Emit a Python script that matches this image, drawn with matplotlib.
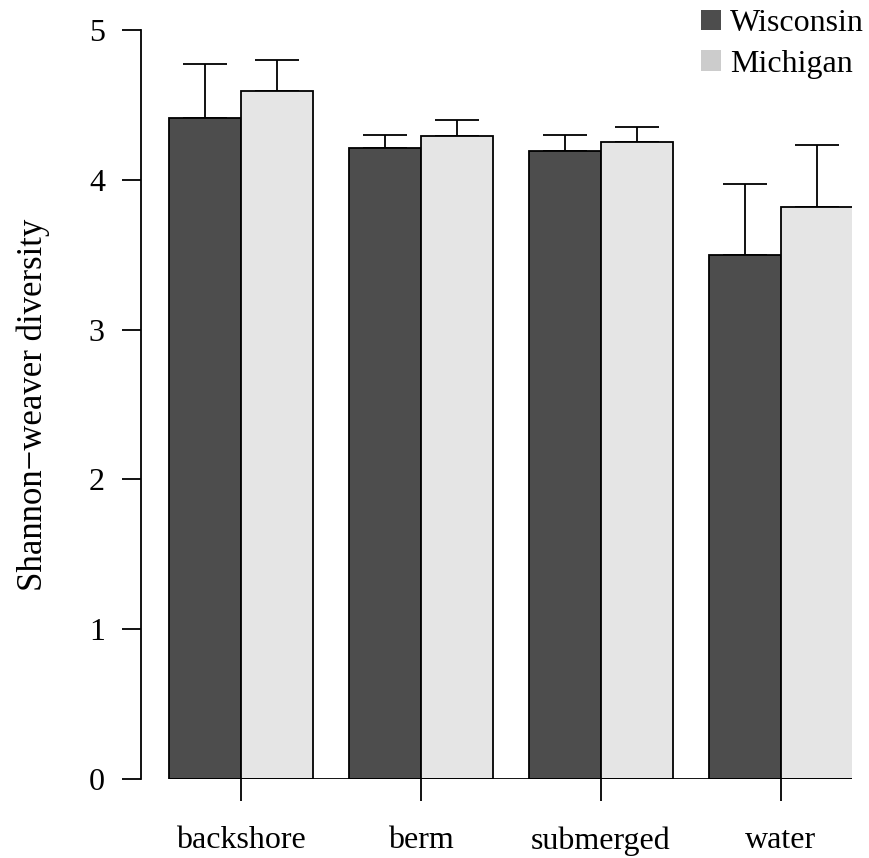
import matplotlib.pyplot as plt
from matplotlib.patches import Patch

# Mean Shannon-Weaver diversity per habitat, with upper error bars
habitats = ["backshore", "berm", "submerged", "water"]
wisconsin = [4.41, 4.21, 4.19, 3.50]
wisconsin_err = [0.36, 0.09, 0.11, 0.47]
michigan = [4.59, 4.29, 4.25, 3.82]
michigan_err = [0.21, 0.11, 0.10, 0.41]

plt.rcParams['font.family'] = ['Liberation Serif', 'DejaVu Serif']
plt.rcParams['font.size'] = 23

fig = plt.figure(figsize=(8.69, 8.58), dpi=100)
W, H = 869, 858
# plot region in pixels: left spine x=141, right edge 852, y 0 at 779, y 5 at 30
ax = fig.add_axes([141 / W, 1 - 779 / H, (852 - 141) / W, (779 - 30) / H])

step = 2.5
centers = [i * step for i in range(len(habitats))]
x_w = [c - 0.5 for c in centers]
x_m = [c + 0.5 for c in centers]

ax.bar(x_w, wisconsin, width=1, color="#4d4d4d", edgecolor="black", linewidth=1.3, zorder=2)
ax.bar(x_m, michigan, width=1, color="#e5e5e5", edgecolor="black", linewidth=1.3, zorder=2)

# upper-only error bars
ax.errorbar(x_w, wisconsin, yerr=[[0] * 4, wisconsin_err], fmt="none", ecolor="black",
            elinewidth=1.3, capsize=15.5, capthick=1.3, zorder=1)
ax.errorbar(x_m, michigan, yerr=[[0] * 4, michigan_err], fmt="none", ecolor="black",
            elinewidth=1.3, capsize=15.5, capthick=1.3, zorder=1)

ax.plot([x_w[0] - 0.5, x_m[-1] + 0.5], [0, 0], color="black", linewidth=1.3, zorder=3,
        solid_capstyle="butt")

ax.set_xlim((141 - 241) / 72, (852 - 241) / 72)
ax.set_ylim(0, 5)
ax.set_yticks([0, 1, 2, 3, 4, 5])
ax.set_xticks(centers)
ax.set_xticklabels(habitats)

for side in ["top", "right", "bottom"]:
    ax.spines[side].set_visible(False)
ax.spines["left"].set_linewidth(1.3)
ax.spines["left"].set_bounds(0, 5)
ax.tick_params(axis="y", length=14, width=1.3, pad=12)
ax.tick_params(axis="x", length=16, width=1.3, pad=18)

ax.set_ylabel("Shannon\u2212weaver diversity", fontsize=25, labelpad=28)

handles = [Patch(facecolor="#4d4d4d", edgecolor="none", label="Wisconsin"),
           Patch(facecolor="#cccccc", edgecolor="none", label="Michigan")]
fig.legend(handles=handles, loc="upper right", bbox_to_anchor=(864 / W, 1 - 9 / H),
           frameon=False, handlelength=0.6, handleheight=0.6, handletextpad=0.3,
           labelspacing=0.37, borderaxespad=0, borderpad=0)

fig.savefig("out.png", dpi=100)
